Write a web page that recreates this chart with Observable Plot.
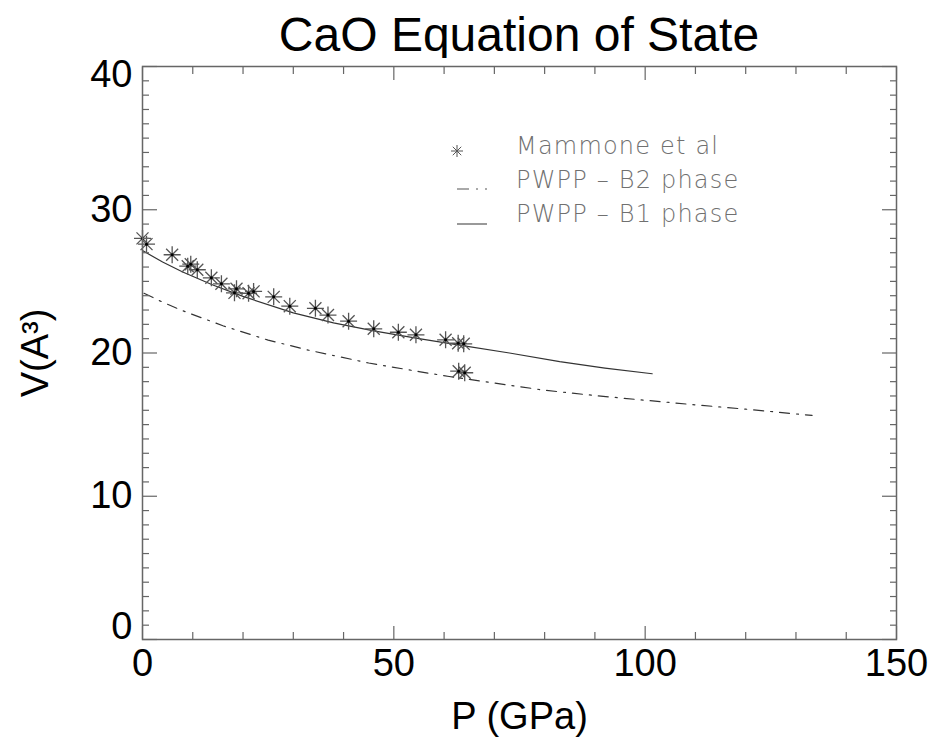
<!DOCTYPE html>
<html><head><meta charset="utf-8">
<script src="https://cdn.jsdelivr.net/npm/d3@7"></script>
<script src="https://cdn.jsdelivr.net/npm/@observablehq/plot@0.6"></script>
<style>
body{margin:0;background:#fff;}
#wrap{position:relative;width:948px;height:738px;font-family:"Liberation Sans",Arial,sans-serif;overflow:hidden;background:#fff;}
#title{position:absolute;left:142px;width:754px;top:0;height:58px;text-align:center;font-size:48px;line-height:70px;color:#000;}
#chart{position:absolute;left:0;top:58px;}
#chart svg{overflow:visible;}
#legend{position:absolute;left:0;top:0;pointer-events:none;}
</style></head><body>
<div id="wrap"><div id="title">CaO Equation of State</div><div id="chart"></div><svg id="legend" width="948" height="738"></svg></div>
<script>
// Mammone et al. measurements (P in GPa, V in A^3)
const mammoneP = [0, 0.8, 5.9, 9.0, 9.6, 10.9, 13.7, 15.7, 18.3, 18.7, 21.1, 22.1, 26.1, 29.3, 34.4, 36.9, 41.0, 46.0, 50.9, 54.4, 60.3, 62.8, 63.9, 62.9, 64.1];
const mammoneV = [28.0, 27.6, 26.86, 26.06, 26.2, 25.81, 25.25, 24.83, 24.2, 24.48, 24.17, 24.3, 23.92, 23.27, 23.12, 22.65, 22.22, 21.69, 21.45, 21.27, 20.92, 20.68, 20.64, 18.73, 18.62];
// PWPP B1 phase curve
const b1P = [0, 4, 8, 14, 20, 30, 38, 46, 55, 64, 73, 83, 92, 101.4];
const b1V = [27.15, 26.35, 25.65, 24.75, 23.95, 22.8, 22.1, 21.55, 21.0, 20.5, 20.0, 19.4, 18.95, 18.55];
// PWPP B2 phase curve
const b2P = [0.3, 4, 8, 16, 25, 33, 45, 55, 61, 70, 80, 90, 100, 110, 120, 133.2];
const b2V = [24.17, 23.55, 22.95, 21.9, 20.9, 20.2, 19.3, 18.7, 18.36, 17.9, 17.4, 17.03, 16.7, 16.38, 16.08, 15.64];
// ticks
const xMajor = [0, 50, 100, 150];
const yMajor = [0, 10, 20, 30, 40];
const yMid = [10, 20, 30];
const xMinor = [10, 20, 30, 40, 60, 70, 80, 90, 110, 120, 130, 140];
const yMinor = d3.range(1, 40).filter(v => v % 10 !== 0);

const mam = mammoneP.map((p, i) => ({P: p, V: mammoneV[i]}));
const b1 = b1P.map((p, i) => ({P: p, V: b1V[i]}));
const b2 = b2P.map((p, i) => ({P: p, V: b2V[i]}));

const star8 = {draw(ctx, size) {
  const r = Math.sqrt(size / Math.PI), d = r * Math.SQRT1_2;
  ctx.moveTo(-r, 0); ctx.lineTo(r, 0);
  ctx.moveTo(0, -r); ctx.lineTo(0, r);
  ctx.moveTo(-d, -d); ctx.lineTo(d, d);
  ctx.moveTo(-d, d); ctx.lineTo(d, -d);
}};

const axisCol = "#666";
const tickOpts = (size) => ({tickSize: -size, tickFormat: () => "", label: null, stroke: axisCol, strokeWidth: 1.2});
const ylab = {anchor: "left", tickSize: 0, tickPadding: 10, fontSize: 38, label: null};

const chart = Plot.plot({
  width: 948, height: 680,
  marginTop: 8, marginBottom: 99, marginLeft: 142, marginRight: 52,
  x: {domain: [0, 150]},
  y: {domain: [0, 40]},
  style: {fontFamily: "'Liberation Sans', Arial, sans-serif", fontSize: "38px", color: "#000", background: "#fff", overflow: "visible"},
  marks: [
    Plot.line(b1, {x: "P", y: "V", stroke: "#333", strokeWidth: 1.2}),
    Plot.line(b2, {x: "P", y: "V", stroke: "#333", strokeWidth: 1.2, strokeDasharray: "10,7,2,7"}),
    Plot.dot(mam, {x: "P", y: "V", symbol: star8, r: 8.5, fill: "none", stroke: "#555", strokeWidth: 1.3}),
    Plot.dot(mam, {x: "P", y: "V", r: 1.5, fill: "#000", stroke: null}),
    // inward ticks on all four sides
    Plot.axisX(xMajor, {anchor: "bottom", ...tickOpts(13)}),
    Plot.axisX(xMinor, {anchor: "bottom", ...tickOpts(7)}),
    Plot.axisX(xMajor, {anchor: "top", ...tickOpts(13)}),
    Plot.axisX(xMinor, {anchor: "top", ...tickOpts(7)}),
    Plot.axisY(yMajor, {anchor: "left", ...tickOpts(15)}),
    Plot.axisY(yMinor, {anchor: "left", ...tickOpts(7)}),
    Plot.axisY(yMajor, {anchor: "right", ...tickOpts(15)}),
    Plot.axisY(yMinor, {anchor: "right", ...tickOpts(7)}),
    // labels
    Plot.axisX(xMajor, {anchor: "bottom", tickSize: 0, tickPadding: 10, fontSize: 38,
      label: "P (GPa)", labelAnchor: "center", labelArrow: "none", labelOffset: 89}),
    Plot.axisY(yMid, {...ylab, label: "V(A³)", labelAnchor: "center", labelArrow: "none", labelOffset: 121}),
    Plot.axisY([40], {...ylab, dy: 8}),
    Plot.axisY([0], {...ylab, dy: -13}),
    Plot.frame({stroke: axisCol, strokeWidth: 1.5})
  ]
});
document.getElementById("chart").appendChild(chart);

// legend (overlay in the upper-right area of the frame)
const leg = d3.select("#legend");
const legendItems = ["Mammone et al", "PWPP \u2013 B2 phase", "PWPP \u2013 B1 phase"];
const lx = 457, tx = 516, baseY = 153, step = 34;
legendItems.forEach((t, i) => {
  leg.append("text").attr("x", tx).attr("y", baseY + i * step + 1)
    .attr("font-family", "'DejaVu Sans', sans-serif").attr("font-weight", 200)
    .attr("font-size", 24).attr("letter-spacing", 1.2).attr("fill", "#707070").text(t);
});
const sp = d3.path(); star8.draw(sp, Math.PI * 6 * 6);
leg.append("path").attr("d", sp.toString()).attr("transform", `translate(${lx},${baseY - 2})`)
  .attr("stroke", "#555").attr("fill", "none");
leg.append("line").attr("x1", lx).attr("x2", lx + 32).attr("y1", baseY + step + 2).attr("y2", baseY + step + 2)
  .attr("stroke", "#555").attr("stroke-width", 1.2).attr("stroke-dasharray", "12,7,2,7,2,20");
leg.append("line").attr("x1", lx).attr("x2", lx + 30).attr("y1", baseY + 2 * step + 3).attr("y2", baseY + 2 * step + 3)
  .attr("stroke", "#555").attr("stroke-width", 1.2);
</script>
</body></html>
